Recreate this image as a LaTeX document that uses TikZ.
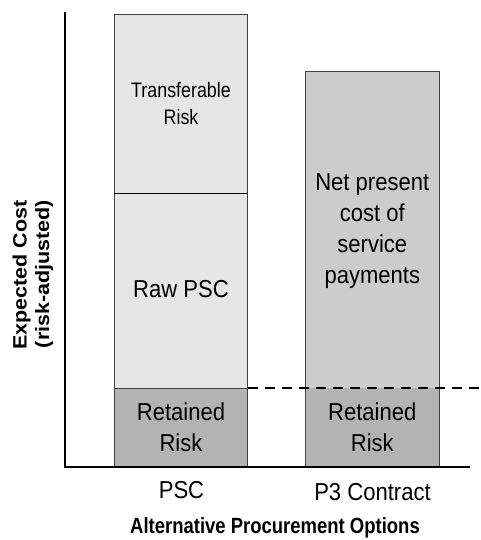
\documentclass[tikz,border=0pt]{standalone}
\usepackage{fontspec}
\setmainfont{Liberation Sans}
\newfontfamily\fa{Liberation Sans}[FakeStretch=0.9]
\newfontfamily\fb{Liberation Sans}[FakeStretch=0.85]
\newfontfamily\fc{Liberation Sans}[FakeStretch=0.84]
\newfontfamily\fd{Liberation Sans}
\definecolor{lightbar}{HTML}{E6E6E6}
\definecolor{midbar}{HTML}{CCCCCC}
\definecolor{darkbar}{HTML}{B3B3B3}
\definecolor{edgegray}{HTML}{404040}
\tikzset{
  barseg/.style={draw=edgegray, line width=0.9pt},
  axisline/.style={draw=black, line width=1.3pt},
  levelline/.style={draw=black, line width=1.1pt, dash pattern=on 10pt off 7pt},
  biglbl/.style={anchor=base, inner sep=0pt, font=\fa\fontsize{24.5}{30}\selectfont},
  smalllbl/.style={anchor=base, inner sep=0pt, font=\fb\fontsize{21}{26}\selectfont},
  axislbl/.style={anchor=base, inner sep=0pt, font=\fc\bfseries\fontsize{22}{26}\selectfont},
  ylbl/.style={anchor=base, inner sep=0pt, rotate=90, font=\fd\bfseries\fontsize{21.5}{25}\selectfont}
}
\begin{document}
\begin{tikzpicture}[x=1pt,y=-1pt]
\useasboundingbox (0,0) rectangle (481,540);
% coordinates
\coordinate (pscTL) at (114,14.5);
\coordinate (pscDivL) at (114,193);
\coordinate (pscDivR) at (247.5,193);
\coordinate (pscRetL) at (114,388);
\coordinate (pscRetR) at (247.5,388);
\coordinate (pscBR) at (247.5,467);
\coordinate (p3TL) at (305.5,71.4);
\coordinate (p3RetL) at (305.5,388);
\coordinate (p3RetR) at (439,388);
\coordinate (p3BR) at (439,467);
\coordinate (dashEnd) at (481,388);
\coordinate (axTop) at (65,12);
\coordinate (axOrig) at (65,467);
\coordinate (axRight) at (470,467);
% PSC bar
\path[fill=lightbar] (pscTL) rectangle (pscRetR);
\path[fill=darkbar] (pscRetL) rectangle (pscBR);
\draw[barseg] (pscTL) rectangle (pscBR);
\draw[barseg, draw=black] (pscDivL) -- (pscDivR);
\draw[barseg] (pscRetL) -- (pscRetR);
% P3 bar
\path[fill=midbar] (p3TL) rectangle (p3RetR);
\path[fill=darkbar] (p3RetL) rectangle (p3BR);
\draw[barseg] (p3TL) rectangle (p3BR);
% dashed level line
\draw[levelline] (pscRetR) -- (dashEnd);
% axes
\draw[axisline] (axTop) -- (axOrig) -- (axRight);
% labels in PSC bar
\node[smalllbl] (tr1) at (181,97.7) {Transferable};
\node[smalllbl] (tr2) at (181,124.5) {Risk};
\node[biglbl] (raw) at (181,297.5) {Raw PSC};
\node[biglbl] (ret1) at (181,420) {Retained};
\node[biglbl] (ret2) at (181,451) {Risk};
% labels in P3 bar
\node[biglbl] (np1) at (372.3,190.7) {Net present};
\node[biglbl] (np2) at (372.3,221.7) {cost of};
\node[biglbl] (np3) at (372.3,252.5) {service};
\node[biglbl] (np4) at (372.3,283.5) {payments};
\node[biglbl] (pret1) at (372.3,420) {Retained};
\node[biglbl] (pret2) at (372.3,451) {Risk};
% category labels
\node[biglbl] (cat1) at (181.5,498.5) {PSC};
\node[biglbl] (cat2) at (372.5,500.5) {P3 Contract};
\node[axislbl] (xlab) at (275,533.3) {Alternative Procurement Options};
% y-axis label
\node[ylbl] (ylab1) at (26.7,275) {\scalebox{1}[0.9]{Expected Cost}};
\node[ylbl] (ylab2) at (49.2,274) {\scalebox{1}[0.9]{(risk-adjusted)}};
\end{tikzpicture}
\end{document}
